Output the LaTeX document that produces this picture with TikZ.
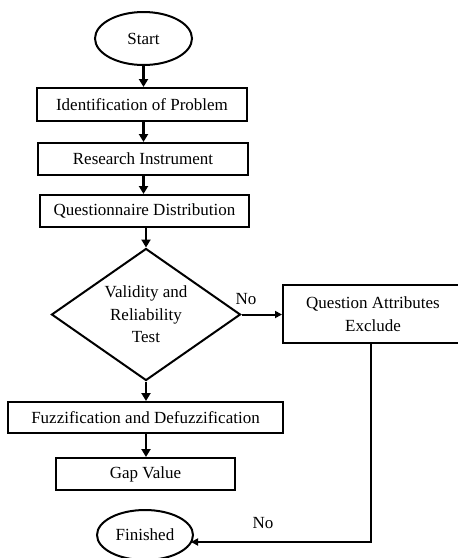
\documentclass[tikz,border=0pt]{standalone}
\usepackage{fontspec}
\setmainfont{Liberation Serif}
\usetikzlibrary{shapes.geometric,arrows.meta}
\begin{document}
\begin{tikzpicture}[x=1pt,y=-1pt,
  every node/.style={font=\fontsize{17}{22.5}\selectfont},
  box/.style={draw,line width=2pt,rectangle,inner sep=0pt},
  oval/.style={draw,line width=2pt,ellipse,inner sep=0pt},
  flow/.style={line width=2.6pt,-{Triangle[length=8pt,width=9pt]}},
  thinflow/.style={line width=2pt,-{Triangle[length=7pt,width=7pt]}},
  lbl/.style={inner sep=0pt}]
\useasboundingbox (0,0) rectangle (458,558);
\clip (0,0) rectangle (458,558);
\node[oval,minimum width=97pt,minimum height=53pt] (start) at (143.5,38.5) {Start};
\node[box,minimum width=210pt,minimum height=33pt] (ident) at (142,104.5) {Identification of Problem};
\node[box,minimum width=210pt,minimum height=32pt] (res) at (143,159) {Research Instrument};
\node[box,minimum width=209pt,minimum height=32pt] (quest) at (144.5,211) {Questionnaire Distribution};
\node[draw,line width=2pt,diamond,aspect=1.43,inner sep=0pt,minimum width=189pt,minimum height=132pt,align=center] (dia) at (146,314.5) {Validity and\\Reliability\\Test};
\node[box,minimum width=180pt,minimum height=58pt,align=center] (qa) at (373,314) {Question Attributes\\Exclude};
\node[box,minimum width=275pt,minimum height=31pt] (fuzz) at (145.5,417.5) {Fuzzification and Defuzzification};
\node[box,minimum width=179pt,minimum height=32pt] (gap) at (145.5,474) {Gap Value};
\node[oval,minimum width=96pt,minimum height=50pt] (fin) at (145,535) {Finished};
\coordinate (c1) at (371,542);
\coordinate (c2) at (191,542);
\draw[flow] (start.south) -- (start.south |- ident.north);
\draw[flow] (ident.south -| start.south) -- (start.south |- res.north);
\draw[flow] (res.south -| start.south) -- (start.south |- quest.north);
\draw[flow] (quest.south -| dia.north) -- (dia.north);
\draw[thinflow] (dia.east) -- (qa.west |- dia.east);
\draw[flow] (dia.south) -- (dia.south |- fuzz.north);
\draw[flow] (fuzz.south -| dia.south) -- (dia.south |- gap.north);
\draw[thinflow] (qa.south -| c1) -- (c1) -- (c2);
\node[lbl] (no1) at (246,299) {No};
\node[lbl] (no2) at (263,523) {No};
\end{tikzpicture}
\end{document}
